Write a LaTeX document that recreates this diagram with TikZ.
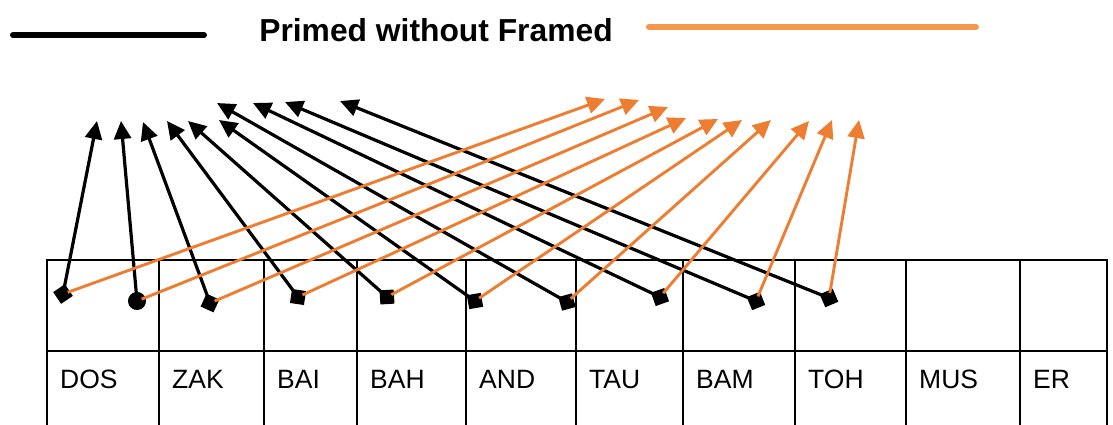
\documentclass[tikz,border=0pt]{standalone}
\usepackage{fontspec}
\setmainfont{Liberation Sans}
\usetikzlibrary{arrows.meta}
\definecolor{orA}{HTML}{ED7D31}
\definecolor{orL}{HTML}{F5964F}
\begin{document}
\begin{tikzpicture}[x=1pt,y=-1pt,
  grid/.style={line width=2pt,black},
  lab/.style={anchor=base west,inner sep=0pt,font=\fontsize{26.5}{30}\selectfont},
  blkd/.style={line width=3.2pt,black,shorten <=-10pt,
    arrows={Diamond[length=20pt,width=20pt]-Triangle[length=18pt,width=17pt]}},
  blkc/.style={line width=3.2pt,black,shorten <=-9pt,
    arrows={Circle[length=18pt]-Triangle[length=18pt,width=17pt]}},
  orn/.style={line width=2.9pt,orA,shorten <=5pt,
    arrows={-Triangle[length=18pt,width=17pt]}},
  legline/.style={line width=6pt,line cap=round}]
\useasboundingbox (0,0) rectangle (1113,424);

% legend
\coordinate (lb1) at (13,35); \coordinate (lb2) at (204,35);
\coordinate (lo1) at (649,27); \coordinate (lo2) at (976,27);
\draw[legline,black] (lb1) -- (lb2);
\draw[legline,orL] (lo1) -- (lo2);
\node[anchor=base,inner sep=0pt,font=\fontsize{31.8}{34}\selectfont\bfseries] (title) at (436,41) {Primed without Framed};

% table
\draw[grid] (47,440) -- (47,260) -- (1107,260) -- (1107,440);
\draw[grid] (47,351) -- (1107,351);
\foreach \x in {159,264,357,466,576,683,795,906,1020}
  \draw[grid] (\x,260) -- (\x,440);
\foreach \x/\t/\n in {47/DOS/dos,159/ZAK/zak,264/BAI/bai,357/BAH/bah,466/AND/and,576/TAU/tau,683/BAM/bam,795/TOH/toh,906/MUS/mus,1020/ER/er}
  \node[lab] (\n) at (\x+13,388) {\t};

% markers (start points)
\coordinate (m1) at (63,294);
\coordinate (m2) at (137,301);
\coordinate (m3) at (210,303);
\coordinate (m4) at (298,297);
\coordinate (m5) at (387,297);
\coordinate (m6) at (475,301);
\coordinate (m7) at (567,302);
\coordinate (m8) at (660,297);
\coordinate (m9) at (756,301);
\coordinate (m10) at (829,298);
% black tips
\coordinate (b1) at (97,121);
\coordinate (b2) at (121,121);
\coordinate (b3) at (143,122);
\coordinate (b4) at (167,121);
\coordinate (b5) at (188,121);
\coordinate (b6) at (219,120);
\coordinate (b7) at (217,103);
\coordinate (b8) at (253,103);
\coordinate (b9) at (285,102);
\coordinate (b10) at (340,101);
% orange tips
\coordinate (o1) at (605,99);
\coordinate (o2) at (639,100);
\coordinate (o3) at (668,107);
\coordinate (o4) at (686,118);
\coordinate (o5) at (718,119);
\coordinate (o6) at (742,120);
\coordinate (o7) at (771,120);
\coordinate (o8) at (809,121);
\coordinate (o9) at (832,120);
\coordinate (o10) at (859,120);

\draw[blkd] (m1) -- (b1);
\draw[blkc] (m2) -- (b2);
\foreach \i in {3,...,10} \draw[blkd] (m\i) -- (b\i);
\foreach \i in {1,...,10} \draw[orn] (m\i) -- (o\i);
\end{tikzpicture}
\end{document}
